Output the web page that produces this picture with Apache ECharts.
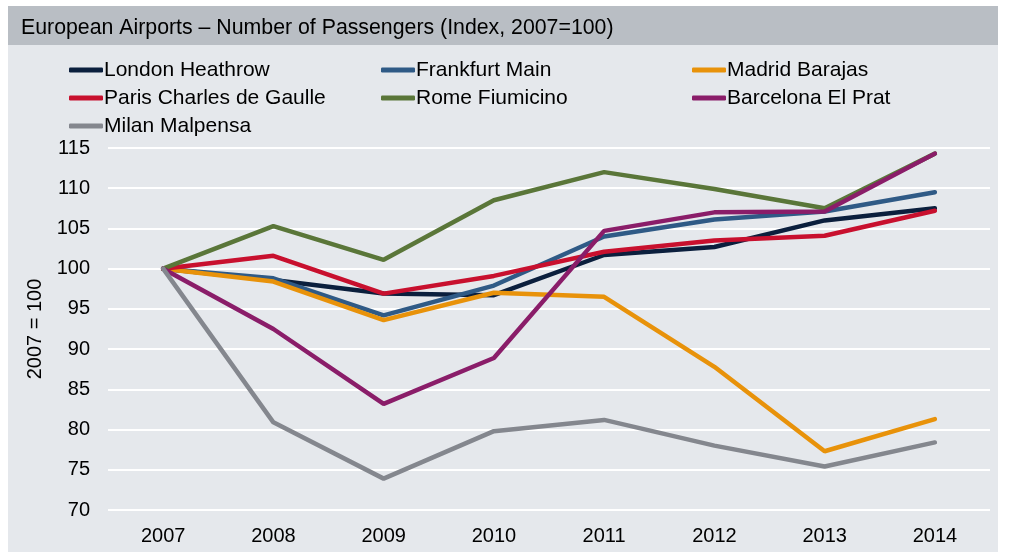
<!DOCTYPE html>
<html>
<head>
<meta charset="utf-8">
<script src="https://cdn.jsdelivr.net/npm/echarts@6/dist/echarts.min.js"></script>
<style>
  html, body { margin: 0; padding: 0; background: #fff; }
  #chart { width: 1009px; height: 552px; }
</style>
</head>
<body>
<div id="chart"></div>
<script>
const years = ['2007', '2008', '2009', '2010', '2011', '2012', '2013', '2014']
const london = [100, 98.6, 96.9, 96.7, 101.7, 102.7, 106.0, 107.5]
const frankfurt = [100, 98.8, 94.2, 97.9, 104.0, 106.1, 107.1, 109.5]
const madrid = [100, 98.4, 93.6, 97.0, 96.5, 87.8, 77.3, 81.3]
const paris = [100, 101.6, 96.9, 99.1, 102.1, 103.5, 104.1, 107.2]
const rome = [100, 105.3, 101.1, 108.5, 112.0, 109.9, 107.5, 114.3]
const barcelona = [100, 92.5, 83.2, 88.9, 104.7, 107.0, 107.1, 114.3]
const milan = [100, 80.9, 73.9, 79.8, 81.2, 78.0, 75.4, 78.4]

const seriesList = [
  { name: 'London Heathrow', data: london, color: '#0b1f3d' },
  { name: 'Frankfurt Main', data: frankfurt, color: '#2f5a86' },
  { name: 'Madrid Barajas', data: madrid, color: '#e8920a' },
  { name: 'Paris Charles de Gaulle', data: paris, color: '#c8102e' },
  { name: 'Rome Fiumicino', data: rome, color: '#5a7639' },
  { name: 'Barcelona El Prat', data: barcelona, color: '#8a1d69' },
  { name: 'Milan Malpensa', data: milan, color: '#84878e' }
]

const font = 'Liberation Sans, Arial, sans-serif'

function legendCol (left, names) {
  return {
    left: left,
    top: 59,
    padding: 0,
    orient: 'vertical',
    itemGap: 6,
    itemWidth: 34,
    itemHeight: 5,
    icon: 'roundRect',
    selectedMode: false,
    textStyle: { fontFamily: font, fontSize: 21, lineHeight: 22, color: '#000', padding: [0, 0, 0, -4] },
    data: names
  }
}

let dom = echarts.init(document.getElementById('chart'))
let option = {
  animation: false,
  graphic: [
    { type: 'rect', z: -10, shape: { x: 8, y: 6, width: 990, height: 39 }, style: { fill: '#b9bec4' } },
    { type: 'rect', z: -10, shape: { x: 8, y: 45, width: 990, height: 507 }, style: { fill: '#e5e8ec' } },
    { type: 'text', left: 21, top: 18, style: { text: 'European Airports \u2013 Number of Passengers (Index, 2007=100)', fontFamily: font, fontSize: 21.3, fill: '#000' } }
  ],
  legend: [
    legendCol(69, ['London Heathrow', 'Paris Charles de Gaulle', 'Milan Malpensa']),
    legendCol(381, ['Frankfurt Main', 'Rome Fiumicino']),
    legendCol(692, ['Madrid Barajas', 'Barcelona El Prat'])
  ],
  grid: { left: 108, right: 19, top: 148, bottom: 42 },
  xAxis: {
    type: 'category',
    data: years,
    boundaryGap: true,
    axisLine: { show: false },
    axisTick: { show: false },
    axisLabel: { fontFamily: font, fontSize: 20, color: '#000', margin: 16 }
  },
  yAxis: {
    type: 'value',
    min: 70,
    max: 115,
    interval: 5,
    name: '2007 = 100',
    nameLocation: 'middle',
    nameRotate: 90,
    nameGap: 62,
    nameTextStyle: { fontFamily: font, fontSize: 20, color: '#000' },
    axisLine: { show: false },
    axisTick: { show: false },
    axisLabel: { fontFamily: font, fontSize: 20, color: '#000', margin: 18 },
    splitLine: { lineStyle: { color: '#ffffff', width: 2 } }
  },
  series: seriesList.map(s => ({
    name: s.name,
    type: 'line',
    data: s.data,
    symbol: 'none',
    color: s.color,
    lineStyle: { width: 4.5, color: s.color, cap: 'round' }
  }))
}
dom.setOption(option)
</script>
</body>
</html>
